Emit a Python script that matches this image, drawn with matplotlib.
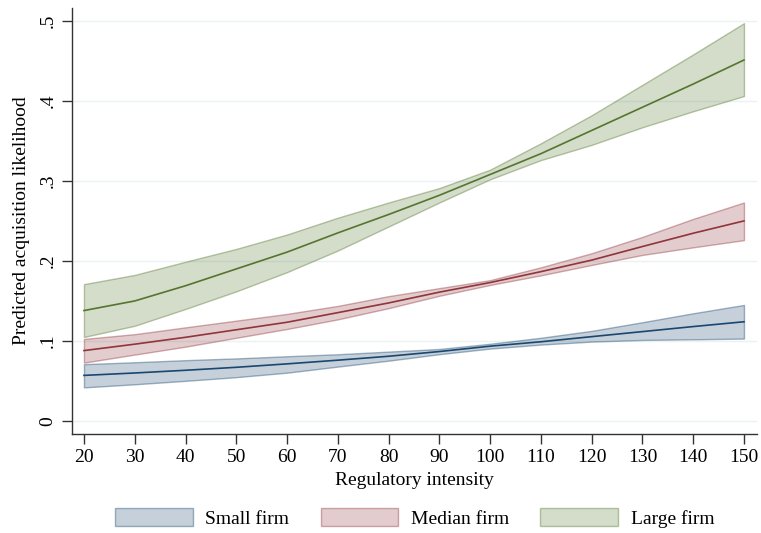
import matplotlib
matplotlib.use("Agg")
import matplotlib.pyplot as plt
from matplotlib.colors import to_rgba

# Regulatory intensity grid
intensity = [20, 30, 40, 50, 60, 70, 80, 90, 100, 110, 120, 130, 140, 150]

# Predicted margins with 95% confidence bounds
small_mid = [0.057, 0.060, 0.0634, 0.0671, 0.0714, 0.076, 0.0809, 0.0868, 0.0935, 0.099, 0.1054, 0.1117, 0.118, 0.124]
small_lo = [0.042, 0.0459, 0.0502, 0.0548, 0.0604, 0.068, 0.0754, 0.0835, 0.0905, 0.0955, 0.0992, 0.1013, 0.1021, 0.103]
small_hi = [0.071, 0.0734, 0.076, 0.0782, 0.0809, 0.0834, 0.0867, 0.090, 0.0965, 0.104, 0.1126, 0.1234, 0.1346, 0.145]

median_mid = [0.088, 0.096, 0.1046, 0.114, 0.1234, 0.1354, 0.1475, 0.1610, 0.173, 0.1866, 0.201, 0.218, 0.2346, 0.250]
median_lo = [0.073, 0.083, 0.0929, 0.104, 0.115, 0.127, 0.1410, 0.1565, 0.170, 0.182, 0.195, 0.2075, 0.217, 0.226]
median_hi = [0.1025, 0.1085, 0.117, 0.1254, 0.1338, 0.1438, 0.1560, 0.1660, 0.176, 0.192, 0.2096, 0.230, 0.2525, 0.273]

large_mid = [0.138, 0.150, 0.169, 0.190, 0.211, 0.235, 0.258, 0.282, 0.308, 0.334, 0.363, 0.392, 0.421, 0.451]
large_lo = [0.105, 0.119, 0.140, 0.162, 0.186, 0.213, 0.243, 0.273, 0.302, 0.326, 0.345, 0.367, 0.387, 0.406]
large_hi = [0.171, 0.1825, 0.199, 0.215, 0.233, 0.254, 0.273, 0.291, 0.314, 0.347, 0.382, 0.420, 0.458, 0.497]

series_labels = ["Small firm", "Median firm", "Large firm"]
x_ticks = [20, 30, 40, 50, 60, 70, 80, 90, 100, 110, 120, 130, 140, 150]
y_ticks = [0, 0.1, 0.2, 0.3, 0.4, 0.5]
y_tick_labels = ["0", ".1", ".2", ".3", ".4", ".5"]

colors = ["#1a476f", "#90353b", "#55752f"]

plt.rcParams["font.family"] = ["Liberation Serif", "DejaVu Serif"]

fig = plt.figure(figsize=(7.61, 5.33), dpi=100)
ax = fig.add_axes([0.0946, 0.1857, 0.9001, 0.7993])

groups = [
    (small_mid, small_lo, small_hi),
    (median_mid, median_lo, median_hi),
    (large_mid, large_lo, large_hi),
]

handles = []
for (mid, lo, hi), col, lab in zip(groups, colors, series_labels):
    h = ax.fill_between(intensity, lo, hi, zorder=2, label=lab)
    h.set_facecolor(to_rgba(col, 0.25))
    h.set_edgecolor(to_rgba(col, 0.40))
    h.set_linewidth(1.0)
    handles.append(h)
    ax.plot(intensity, mid, color=col, lw=1.2, zorder=3)

ax.set_xlim(17.64, 152.56)
ax.set_ylim(-0.01625, 0.516)

ax.set_xticks(x_ticks)
ax.set_yticks(y_ticks)
ax.set_yticklabels(y_tick_labels, rotation=90, va="center")

ax.grid(axis="y", color="#eaf2f3", lw=1.0, zorder=0)
ax.grid(axis="x", visible=False)

for side in ("top", "right"):
    ax.spines[side].set_visible(False)
for side in ("left", "bottom"):
    ax.spines[side].set_color("#333333")
    ax.spines[side].set_linewidth(1.0)

ax.tick_params(axis="both", direction="out", length=7, width=1.0,
               color="#333333", labelsize=14, labelcolor="#000000")
ax.tick_params(axis="y", pad=4)
ax.tick_params(axis="x", pad=4)

ax.set_xlabel("Regulatory intensity", fontsize=14, labelpad=4)
ax.set_ylabel("Predicted acquisition likelihood", fontsize=14, labelpad=7)

fig.legend(handles=handles, labels=series_labels, loc="center",
           bbox_to_anchor=(0.545, 0.028), ncol=3, frameon=False,
           fontsize=14, handlelength=4.0, handleheight=1.0,
           handletextpad=0.65, columnspacing=1.6)

fig.savefig("out.png", dpi=100)
